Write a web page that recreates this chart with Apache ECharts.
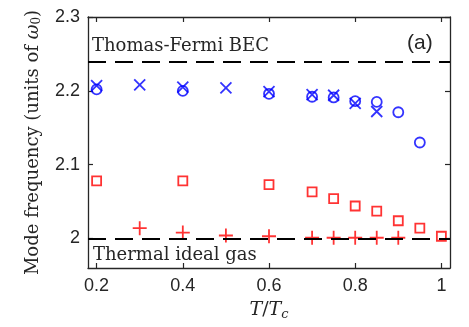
<!DOCTYPE html>
<html>
<head>
<meta charset="utf-8">
<script src="https://cdn.jsdelivr.net/npm/echarts@6/dist/echarts.min.js"></script>
<style>
  html, body { margin: 0; padding: 0; background: #fff; }
  #chart { width: 469px; height: 327px; }
</style>
</head>
<body>
<div id="chart"></div>
<script>
// T/Tc values and mode frequencies
const circleT = [0.2, 0.4, 0.6, 0.7, 0.75, 0.8, 0.85, 0.9, 0.95];
const circleW = [2.202, 2.200, 2.196, 2.192, 2.191, 2.186, 2.185, 2.171, 2.130];
const crossT = [0.2, 0.3, 0.4, 0.5, 0.6, 0.7, 0.75, 0.8, 0.85];
const crossW = [2.207, 2.208, 2.205, 2.204, 2.199, 2.195, 2.194, 2.183, 2.172];
const squareT = [0.2, 0.4, 0.6, 0.7, 0.75, 0.8, 0.85, 0.9, 0.95, 1.0];
const squareW = [2.078, 2.078, 2.073, 2.063, 2.054, 2.044, 2.037, 2.024, 2.014, 2.003];
const plusT = [0.3, 0.4, 0.5, 0.6, 0.7, 0.75, 0.8, 0.85, 0.9];
const plusW = [2.014, 2.008, 2.004, 2.003, 2.001, 2.001, 2.001, 2.001, 2.001];
const tfLevel = 2.236;   // Thomas-Fermi BEC
const idealLevel = 2.0;  // thermal ideal gas
const xTicks = [0.2, 0.4, 0.6, 0.8, 1];
const yTicks = [2, 2.1, 2.2, 2.3];

const pair = (xs, ys) => xs.map((x, i) => [x, ys[i]]);

const chart = echarts.init(document.getElementById("chart"));
const serif = "DejaVu Serif";
const sans = "Liberation Sans";
const ink = "#262626";

const axisLine = { show: true, lineStyle: { color: ink, width: 1.3 } };
const ticks = vals => ({ show: true, inside: true, length: 5, customValues: vals, lineStyle: { color: ink, width: 1.2 } });

const option = {
  animation: false,
  grid: { left: 88, right: 19, top: 17, bottom: 59 },
  xAxis: [
    {
      type: "value", min: 0.18, max: 1.02,
      axisLine: axisLine, splitLine: { show: false }, axisTick: ticks(xTicks),
      axisLabel: {
        color: ink, fontFamily: sans, fontSize: 18, margin: 9,
        customValues: xTicks, formatter: v => String(+v.toFixed(1)),
      },
      name: "{i|T}/{i|T}{s|c}", nameLocation: "middle", nameGap: 31,
      nameTextStyle: {
        fontFamily: serif, fontSize: 19, color: ink,
        rich: {
          i: { fontFamily: serif, fontStyle: "italic", fontSize: 19, color: ink },
          s: { fontFamily: serif, fontStyle: "italic", fontSize: 13, color: ink, verticalAlign: "bottom", padding: [9, 0, 0, 0] },
        },
      },
    },
    {
      type: "value", min: 0.18, max: 1.02, position: "top",
      axisLine: axisLine, splitLine: { show: false }, axisTick: ticks(xTicks),
      axisLabel: { show: false },
    },
  ],
  yAxis: [
    {
      type: "value", min: 1.96, max: 2.3,
      axisLine: axisLine, splitLine: { show: false }, axisTick: ticks(yTicks),
      axisLabel: {
        color: ink, fontFamily: sans, fontSize: 18, margin: 8,
        customValues: yTicks, formatter: v => String(+v.toFixed(1)),
      },
      name: "Mode frequency (units of {i|ω}{s|0})", nameLocation: "middle", nameGap: 45,
      nameTextStyle: {
        fontFamily: serif, fontSize: 18, color: ink,
        rich: {
          i: { fontFamily: serif, fontStyle: "italic", fontSize: 18, color: ink },
          s: { fontFamily: serif, fontSize: 12, color: ink, verticalAlign: "bottom", padding: [7, 0, 0, 0] },
        },
      },
    },
    {
      type: "value", min: 1.96, max: 2.3, position: "right",
      axisLine: axisLine, splitLine: { show: false }, axisTick: ticks(yTicks),
      axisLabel: { show: false },
    },
  ],
  graphic: [
    { type: "text", left: 92, top: 37, style: { text: "Thomas-Fermi BEC", font: "18px '" + serif + "'", fill: ink } },
    { type: "text", left: 93, top: 246, style: { text: "Thermal ideal gas", font: "18px '" + serif + "'", fill: ink } },
    { type: "text", left: 407, top: 33, style: { text: "(a)", font: "21px '" + sans + "'", fill: ink } },
  ],
  series: [
    {
      type: "scatter", data: [], silent: true,
      markLine: {
        symbol: "none", silent: true, label: { show: false },
        lineStyle: { color: "#000", type: [18, 9], width: 2 },
        data: [{ yAxis: tfLevel }, { yAxis: idealLevel }],
      },
    },
    {
      type: "scatter", data: pair(circleT, circleW), symbol: "circle", symbolSize: 10,
      itemStyle: { color: "none", borderColor: "#0000ff", borderWidth: 1.8 },
    },
    {
      type: "scatter", data: pair(crossT, crossW), symbol: "path://M0,0L10,10M10,0L0,10", symbolSize: 11,
      itemStyle: { color: "none", borderColor: "#0000ff", borderWidth: 1.8 },
    },
    {
      type: "scatter", data: pair(squareT, squareW), symbol: "rect", symbolSize: 9,
      itemStyle: { color: "none", borderColor: "#ff0000", borderWidth: 1.8 },
    },
    {
      type: "scatter", data: pair(plusT, plusW), symbol: "path://M5,0L5,10M0,5L10,5", symbolSize: 14,
      itemStyle: { color: "none", borderColor: "#ff0000", borderWidth: 1.8 },
    },
  ],
};

chart.setOption(option);
</script>
</body>
</html>
